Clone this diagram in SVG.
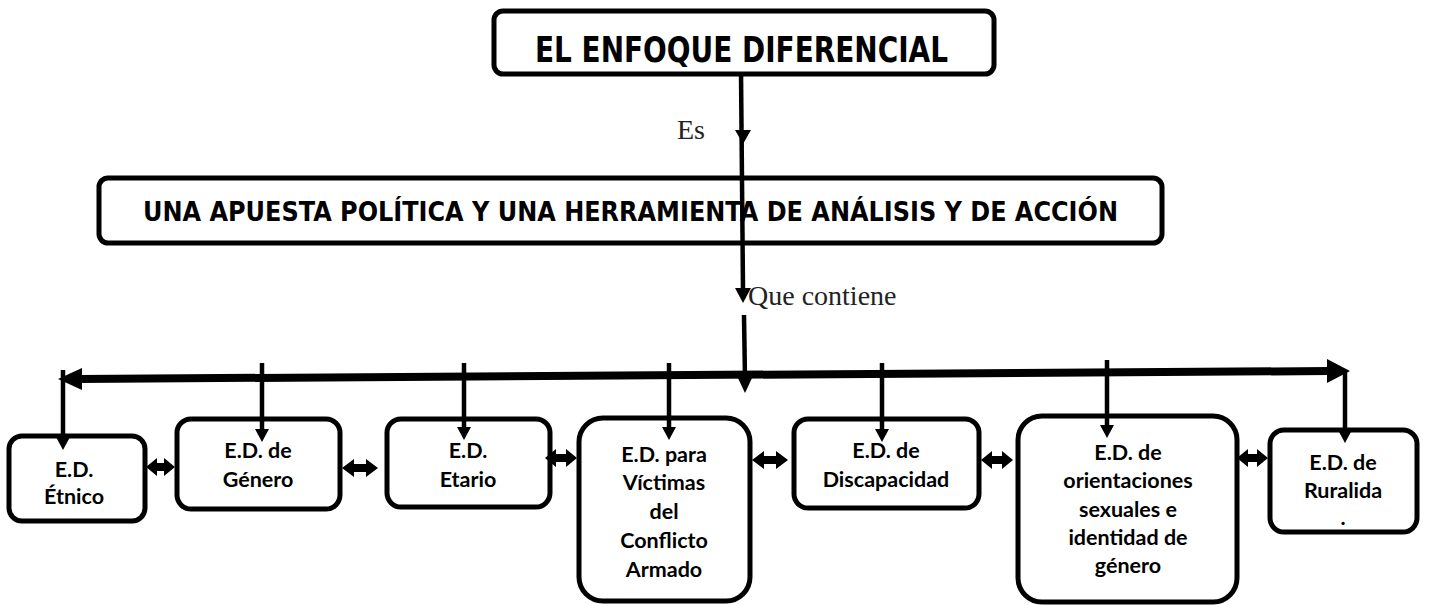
<svg xmlns="http://www.w3.org/2000/svg" width="1429" height="605" viewBox="0 0 1429 605">
<defs>
<style>
.box{fill:#fff;stroke:#000;stroke-width:5}
.ttl{font-family:"DejaVu Sans",Verdana,sans-serif;font-weight:bold;fill:#000}
.lbl{font-family:Lato,"Open Sans",sans-serif;font-weight:bold;font-size:21.5px;fill:#000;text-anchor:middle}
.ser{font-family:"Liberation Serif","Times New Roman",serif;font-size:28px;fill:#222}
.ln{stroke:#000;stroke-width:4.5;fill:none}
.hd{fill:#000}
</style>
</defs>
<rect width="1429" height="605" fill="#fff"/>
<text class="ser" x="677" y="139">Es</text>
<text class="ser" x="748" y="305">Que contiene</text>
<g id="n-top">
<rect class="box" x="494" y="11" width="500" height="63" rx="9"/>
<text class="ttl" x="535" y="62" font-size="35" textLength="413" lengthAdjust="spacingAndGlyphs">EL ENFOQUE DIFERENCIAL</text>
</g>
<g id="n-mid">
<rect class="box" x="99" y="178" width="1063" height="65" rx="9"/>
<text class="ttl" x="143" y="221" font-size="27" textLength="975" lengthAdjust="spacingAndGlyphs">UNA APUESTA POLÍTICA Y UNA HERRAMIENTA DE ANÁLISIS Y DE ACCIÓN</text>
</g>
<g id="n-etnico">
<rect class="box" x="9" y="436" width="136" height="85" rx="13"/>
<text class="lbl" x="74" y="477">E.D.</text>
<text class="lbl" x="74" y="504">Étnico</text>
</g>
<g id="n-genero">
<rect class="box" x="177" y="419" width="163" height="90" rx="14"/>
<text class="lbl" x="258" y="458">E.D. de</text>
<text class="lbl" x="258" y="487">Género</text>
</g>
<g id="n-etario">
<rect class="box" x="387" y="419" width="163" height="88" rx="14"/>
<text class="lbl" x="468" y="458">E.D.</text>
<text class="lbl" x="468" y="487">Etario</text>
</g>
<g id="n-victimas">
<rect class="box" x="579" y="418" width="171" height="183" rx="24"/>
<text class="lbl" x="664" y="462">E.D. para</text>
<text class="lbl" x="664" y="490">Víctimas</text>
<text class="lbl" x="664" y="519">del</text>
<text class="lbl" x="664" y="548">Conflicto</text>
<text class="lbl" x="664" y="577">Armado</text>
</g>
<g id="n-discapacidad">
<rect class="box" x="794" y="419" width="185" height="89" rx="14"/>
<text class="lbl" x="886" y="458">E.D. de</text>
<text class="lbl" x="886" y="487">Discapacidad</text>
</g>
<g id="n-orientaciones">
<rect class="box" x="1018" y="416" width="219" height="186" rx="24"/>
<text class="lbl" x="1128" y="460">E.D. de</text>
<text class="lbl" x="1128" y="488">orientaciones</text>
<text class="lbl" x="1128" y="517">sexuales e</text>
<text class="lbl" x="1128" y="545">identidad de</text>
<text class="lbl" x="1128" y="573">género</text>
</g>
<g id="n-ruralidad">
<rect class="box" x="1270" y="430" width="147" height="102" rx="14"/>
<text class="lbl" x="1343" y="470">E.D. de</text>
<text class="lbl" x="1343" y="498">Ruralida</text>
<text class="lbl" x="1343" y="525">.</text>
</g>
<g id="connectors">
<path class="ln" d="M741 72 L743 290"/>
<polygon class="hd" points="735,130 751,130 743,144"/>
<polygon class="hd" points="735,288 751,288 743,303"/>
<path class="ln" d="M744 315 L745 380"/>
<polygon class="hd" points="737,376 753,376 745,393"/>
<path d="M78 379 L1330 371" stroke="#000" stroke-width="8" fill="none"/>
<polygon class="hd" points="58,379 82,368 82,390"/>
<polygon class="hd" points="1350,371 1327,359 1327,383"/>
<path class="ln" d="M63 370 L63 440"/>
<polygon class="hd" points="56,437 70,437 63,450"/>
<path class="ln" d="M262 363 L262 432"/>
<polygon class="hd" points="255,429 269,429 262,442"/>
<path class="ln" d="M464 363 L464 430"/>
<polygon class="hd" points="457,427 471,427 464,440"/>
<path class="ln" d="M669 363 L669 430"/>
<polygon class="hd" points="662,427 676,427 669,440"/>
<path class="ln" d="M882 363 L882 432"/>
<polygon class="hd" points="875,429 889,429 882,442"/>
<path class="ln" d="M1107 360 L1107 428"/>
<polygon class="hd" points="1100,425 1114,425 1107,438"/>
<path class="ln" d="M1345 372 L1345 433"/>
<polygon class="hd" points="1338,430 1352,430 1345,443"/>
<polygon class="hd" points="146,467 157,458 157,463 164,463 164,458 175,467 164,476 164,471 157,471 157,476"/>
<polygon class="hd" points="342,468 354,459 354,464 366,464 366,459 378,468 366,477 366,472 354,472 354,477"/>
<polygon class="hd" points="545,458 556,449 556,454 566,454 566,449 577,458 566,467 566,462 556,462 556,467"/>
<polygon class="hd" points="752,460 764,451 764,456 776,456 776,451 788,460 776,469 776,464 764,464 764,469"/>
<polygon class="hd" points="981,460 992,451 992,456 1002,456 1002,451 1013,460 1002,469 1002,464 992,464 992,469"/>
<polygon class="hd" points="1237,458 1248,449 1248,454 1257,454 1257,449 1268,458 1257,467 1257,462 1248,462 1248,467"/>
</g>
</svg>
